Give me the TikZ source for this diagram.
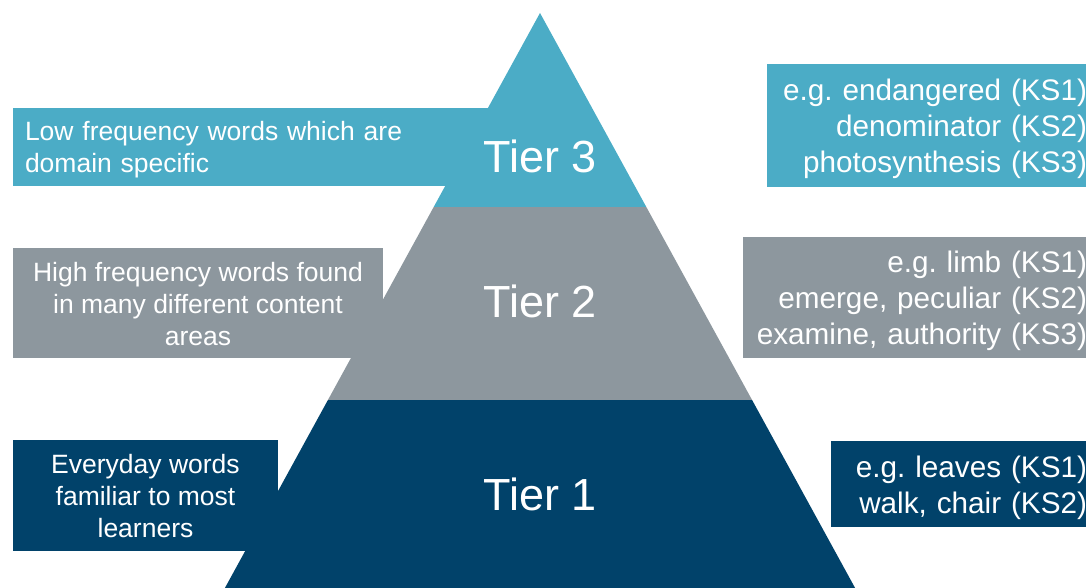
\documentclass[tikz,border=0pt]{standalone}
\usepackage{fontspec}
\setmainfont{Liberation Sans}
\frenchspacing
\hyphenpenalty=10000
\definecolor{tierthree}{RGB}{75,172,198}
\definecolor{tiertwo}{RGB}{141,151,158}
\definecolor{tierone}{RGB}{1,66,106}
\begin{document}
\begin{tikzpicture}[x=1pt,y=1pt,
    descbox/.style={inner sep=0pt,text=white,font=\fontsize{26.5}{32}\selectfont},
    egbox/.style={inner xsep=13pt,inner ysep=0pt,text=white,align=right,
      font=\fontsize{29.7}{36}\selectfont,
      execute at begin node={\rule{0pt}{29pt}}},
    tier/.style={anchor=base,text=white,font=\fontsize{45}{54}\selectfont}]
\useasboundingbox (0,0) rectangle (1086,588);
\clip (0,0) rectangle (1086,588);
% descriptions on the left
\node (low) [descbox, fill=tierthree, minimum width=477, minimum height=78, text width=453, align=left] at (251.5,441) {\rule{0pt}{25pt}Low frequency words which are\\domain specific};
\node (high) [descbox, fill=tiertwo, minimum width=370, minimum height=110, align=center] at (198,285) {\rule{0pt}{21pt}High frequency words found\\in many different content\\areas};
\node (everyday) [descbox, fill=tierone, minimum width=265, minimum height=111, align=center] at (145.5,92.5) {\rule{0pt}{21pt}Everyday words\\familiar to most\\learners};
% examples on the right
\node (egthree) [egbox, fill=tierthree, minimum width=333, minimum height=123, text width=307] at (933.5,462.5) {e.g. endangered (KS1)\\denominator (KS2)\\photosynthesis (KS3)};
\node (egtwo) [egbox, fill=tiertwo, minimum width=357, minimum height=121, text width=331] at (921.5,290.5) {e.g. limb (KS1)\\emerge, peculiar (KS2)\\examine, authority (KS3)};
\node (egone) [egbox, fill=tierone, minimum width=269, minimum height=86, text width=243] at (965.5,104) {e.g. leaves (KS1)\\walk, chair (KS2)};
% the pyramid
\coordinate (apex) at (540,575);
\coordinate (bl) at (224.9,0);
\coordinate (br) at (855.1,0);
\begin{scope}
  \clip (apex) -- (bl) -- (br) -- cycle;
  \fill[tierone] (0,0) rectangle (1086,188);
  \fill[tiertwo] (0,188) rectangle (1086,381);
  \fill[tierthree] (0,381) rectangle (1086,588);
\end{scope}
\node (tthree) [tier] at (540,415) {Tier 3};
\node (ttwo) [tier] at (540,270) {Tier 2};
\node (tone) [tier] at (540,77) {Tier 1};
\end{tikzpicture}
\end{document}
